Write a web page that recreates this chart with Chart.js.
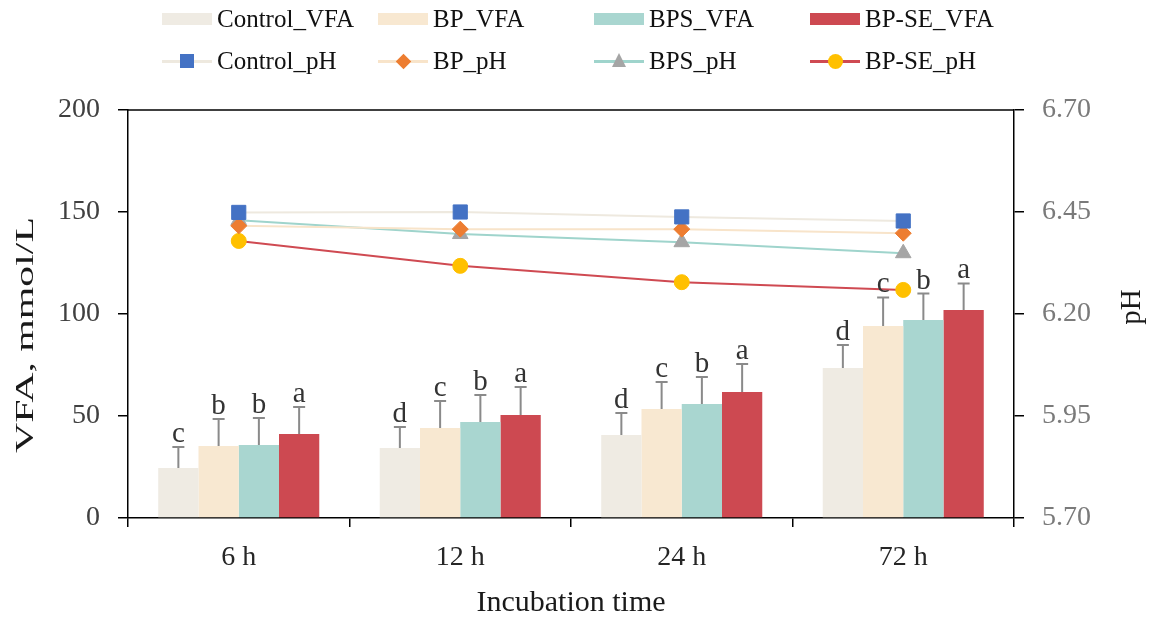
<!DOCTYPE html>
<html lang="en">
<head>
  <meta charset="UTF-8">
  <title>VFA and pH by incubation time</title>
  <script src="https://cdn.jsdelivr.net/npm/chart.js"></script>
  <style>
    body {
      margin: 0;
      background: #fff;
      font-family: 'Liberation Serif', 'Times New Roman', serif;
    }

    .wrap {
      position: relative;
      width: 1150px;
      height: 621px;
    }

    #legend {
      position: absolute;
      left: 0;
      top: 0;
      width: 1150px;
      height: 80px;
    }

    .item {
      position: absolute;
      height: 30px;
      display: flex;
      align-items: center;
      font-size: 25px;
      color: #111;
      white-space: nowrap;
    }

    .sym {
      position: relative;
      width: 50px;
      height: 16px;
      margin-right: 5px;
    }

    .sym .box { position: absolute; left: 0; top: 2px; width: 50px; height: 12px; }
    .sym .ln { position: absolute; left: 0; top: 6.5px; width: 50px; height: 3px; }
    .sym .mk { position: absolute; }
  </style>
</head>
<body>

<div class="wrap">
  <canvas id="chart" width="1150" height="621"></canvas>
  <div id="legend"></div>
</div>

<script>
  // Categories and ticks
  const categories = ['6 h', '12 h', '24 h', '72 h'];
  const vfaTicks = [0, 50, 100, 150, 200];
  const phTicks = [5.70, 5.95, 6.20, 6.45, 6.70];

  // VFA (mmol/L) means, SD and letters
  const controlVFA = [24.5, 34.3, 40.7, 73.5];
  const bpVFA = [35.3, 44.1, 53.4, 94.1];
  const bpsVFA = [35.8, 47.0, 55.9, 97.0];
  const bpseVFA = [41.2, 50.5, 61.8, 102.0];

  const controlErr = [10.3, 10.3, 10.8, 11.3];
  const bpErr = [13.2, 13.3, 13.3, 14.0];
  const bpsErr = [13.2, 13.3, 13.2, 13.0];
  const bpseErr = [13.2, 13.7, 13.7, 13.0];

  const controlLetters = ['c', 'd', 'd', 'd'];
  const bpLetters = ['b', 'c', 'c', 'c'];
  const bpsLetters = ['b', 'b', 'b', 'b'];
  const bpseLetters = ['a', 'a', 'a', 'a'];

  // pH
  const controlPH = [6.449, 6.450, 6.438, 6.428];
  const bpPH = [6.416, 6.408, 6.408, 6.398];
  const bpsPH = [6.430, 6.396, 6.376, 6.349];
  const bpsePH = [6.379, 6.318, 6.278, 6.259];

  const vfaNames = ['Control_VFA', 'BP_VFA', 'BPS_VFA', 'BP-SE_VFA'];
  const phNames = ['Control_pH', 'BP_pH', 'BPS_pH', 'BP-SE_pH'];
  const barColors = ['#EFEBE3', '#F8E8D1', '#A9D6D0', '#CD4951'];
  const lineColors = ['#EEE9DF', '#F8E4CA', '#9FD4CC', '#CF4A52'];
  const markerColors = ['#4472C4', '#ED7D31', '#A5A5A5', '#FFC000'];
  const markerStyles = ['rect', 'rectRot', 'triangle', 'circle'];
  const markerRadius = [10, 8, 9, 7.5];

  const vfaValues = [controlVFA, bpVFA, bpsVFA, bpseVFA];
  const vfaErrors = [controlErr, bpErr, bpsErr, bpseErr];
  const vfaLetters = [controlLetters, bpLetters, bpsLetters, bpseLetters];
  const phValues = [controlPH, bpPH, bpsPH, bpsePH];

  const SERIF = "'Liberation Serif', 'Times New Roman', serif";

  const datasets = [];
  vfaValues.forEach((vals, i) => {
    datasets.push({
      type: 'bar',
      label: vfaNames[i],
      data: vals,
      backgroundColor: barColors[i],
      borderWidth: 0,
      yAxisID: 'y',
      order: 1,
      categoryPercentage: 0.727,
      barPercentage: 1.0
    });
  });
  phValues.forEach((vals, i) => {
    datasets.push({
      type: 'line',
      label: phNames[i],
      data: vals,
      borderColor: lineColors[i],
      borderWidth: 2,
      tension: 0,
      pointStyle: markerStyles[i],
      pointRadius: markerRadius[i],
      pointBackgroundColor: markerColors[i],
      pointBorderColor: markerColors[i],
      pointBorderWidth: 1,
      yAxisID: 'y1',
      order: 0
    });
  });

  // Error bars (upward only) and significance letters
  const errorBars = {
    id: 'errorBars',
    afterDatasetsDraw(chart) {
      const ctx = chart.ctx;
      const y = chart.scales.y;
      ctx.save();
      vfaValues.forEach((vals, i) => {
        const meta = chart.getDatasetMeta(i);
        meta.data.forEach((bar, j) => {
          const top = y.getPixelForValue(vals[j] + vfaErrors[i][j]);
          ctx.strokeStyle = '#8a8a8a';
          ctx.lineWidth = 2;
          ctx.beginPath();
          ctx.moveTo(bar.x, bar.y);
          ctx.lineTo(bar.x, top);
          ctx.moveTo(bar.x - 6, top);
          ctx.lineTo(bar.x + 6, top);
          ctx.stroke();

          ctx.fillStyle = '#333';
          ctx.font = '29px ' + SERIF;
          ctx.textAlign = 'center';
          ctx.textBaseline = 'alphabetic';
          ctx.fillText(vfaLetters[i][j], bar.x, top - 5);
        });
      });
      ctx.restore();
    }
  };

  // Top frame line and the two vertical axis titles
  const frame = {
    id: 'frame',
    afterDraw(chart) {
      const ctx = chart.ctx;
      const a = chart.chartArea;
      ctx.save();
      ctx.strokeStyle = '#000';
      ctx.lineWidth = 1.5;
      ctx.beginPath();
      ctx.moveTo(a.left, a.top);
      ctx.lineTo(a.right, a.top);
      ctx.stroke();

      drawVertical(ctx, 'VFA, mmol/L', 26, 335, 26, 236);
      drawVertical(ctx, 'pH', 1132, 307, 29, 0);
      ctx.restore();
    }
  };

  function drawVertical(ctx, text, x, y, size, length) {
    ctx.save();
    ctx.translate(x, y);
    ctx.rotate(-Math.PI / 2);
    ctx.font = size + 'px ' + SERIF;
    const w = ctx.measureText(text).width;
    if (length) ctx.scale(length / w, 1);
    ctx.fillStyle = '#1a1a1a';
    ctx.textAlign = 'center';
    ctx.textBaseline = 'middle';
    ctx.fillText(text, 0, 0);
    ctx.restore();
  }

  const ctx = document.getElementById('chart').getContext('2d');
  new Chart(ctx, {
    data: { labels: categories, datasets: datasets },
    options: {
      responsive: false,
      animation: false,
      layout: { padding: { top: 110, left: 0, right: 0, bottom: 0 } },
      plugins: {
        legend: { display: false },
        tooltip: { enabled: false }
      },
      scales: {
        x: {
          offset: true,
          grid: {
            offset: true,
            drawOnChartArea: false,
            drawTicks: true,
            tickLength: 9,
            color: '#000',
            lineWidth: 1.5
          },
          border: { display: true, color: '#000', width: 1.5 },
          ticks: {
            color: '#262626',
            padding: 14,
            font: { family: SERIF, size: 28 }
          },
          title: {
            display: true,
            text: 'Incubation time',
            color: '#1a1a1a',
            padding: { top: 0, bottom: 0 },
            font: { family: SERIF, size: 30 }
          },
          afterFit: s => { s.height = 103; }
        },
        y: {
          position: 'left',
          min: 0,
          max: 200,
          afterBuildTicks: s => { s.ticks = vfaTicks.map(v => ({ value: v })); },
          grid: {
            drawOnChartArea: false,
            drawTicks: true,
            tickLength: 10,
            color: '#000',
            lineWidth: 1.5
          },
          border: { display: true, color: '#000', width: 1.5 },
          ticks: {
            color: '#404040',
            padding: 18,
            font: { family: SERIF, size: 28 }
          },
          afterFit: s => { s.width = 128; }
        },
        y1: {
          position: 'right',
          min: 5.7,
          max: 6.7,
          afterBuildTicks: s => { s.ticks = phTicks.map(v => ({ value: v })); },
          grid: {
            drawOnChartArea: false,
            drawTicks: true,
            tickLength: 10,
            color: '#000',
            lineWidth: 1.5
          },
          border: { display: true, color: '#000', width: 1.5 },
          ticks: {
            color: '#7a7a7a',
            padding: 18,
            font: { family: SERIF, size: 28 },
            callback: v => Number(v).toFixed(2)
          },
          afterFit: s => { s.width = 136; }
        }
      }
    },
    plugins: [errorBars, frame]
  });

  // HTML legend: 2 rows x 4 columns
  const legend = document.getElementById('legend');
  const colX = [162, 378, 594, 810];
  const rowY = [19, 61];

  function markerEl(i) {
    const m = document.createElement('div');
    m.className = 'mk';
    const c = markerColors[i];
    if (i === 0) {
      Object.assign(m.style, { width: '14px', height: '14px', left: '18px', top: '1px', background: c });
    } else if (i === 1) {
      Object.assign(m.style, { width: '11px', height: '11px', left: '19.5px', top: '2.5px', background: c, transform: 'rotate(45deg)' });
    } else if (i === 2) {
      Object.assign(m.style, { width: 0, height: 0, left: '17.5px', top: '0px',
        borderLeft: '7.5px solid transparent', borderRight: '7.5px solid transparent', borderBottom: '14px solid ' + c });
    } else {
      Object.assign(m.style, { width: '15px', height: '15px', left: '17.5px', top: '0.5px', background: c, borderRadius: '50%' });
    }
    return m;
  }

  function addItem(text, col, row, build) {
    const item = document.createElement('div');
    item.className = 'item';
    item.style.left = colX[col] + 'px';
    item.style.top = (rowY[row] - 15) + 'px';
    const sym = document.createElement('div');
    sym.className = 'sym';
    build(sym);
    const label = document.createElement('span');
    label.textContent = text;
    item.appendChild(sym);
    item.appendChild(label);
    legend.appendChild(item);
  }

  vfaNames.forEach((name, i) => {
    addItem(name, i, 0, sym => {
      const b = document.createElement('div');
      b.className = 'box';
      b.style.background = barColors[i];
      sym.appendChild(b);
    });
  });

  phNames.forEach((name, i) => {
    addItem(name, i, 1, sym => {
      const l = document.createElement('div');
      l.className = 'ln';
      l.style.background = lineColors[i];
      sym.appendChild(l);
      sym.appendChild(markerEl(i));
    });
  });
</script>

</body>
</html>
